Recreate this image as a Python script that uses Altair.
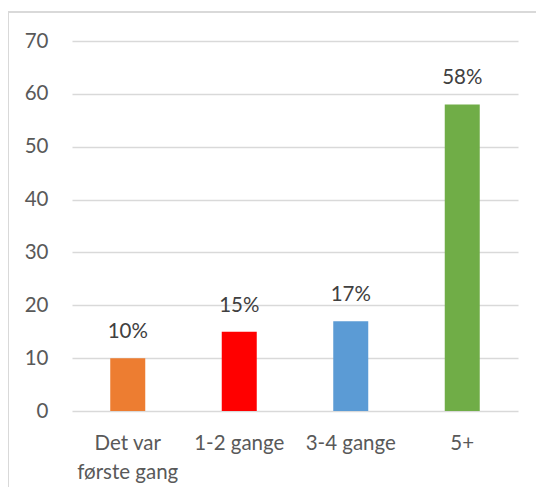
import altair as alt
import pandas as pd

categories = ["Det var første gang", "1-2 gange", "3-4 gange", "5+"]
values = [10, 15, 17, 58]
colors = ["#ED7D31", "#FF0000", "#5B9BD5", "#70AD47"]
y_ticks = [0, 10, 20, 30, 40, 50, 60, 70]

df = pd.DataFrame({"cat": categories, "val": values, "color": colors})

W, H = 446, 370
FONT = "Lato"
FS = 20.5

x_enc = alt.X(
    "cat:N",
    sort=categories,
    title=None,
    scale=alt.Scale(paddingInner=0.69, paddingOuter=0.345),
    axis=alt.Axis(
        labelAngle=0,
        labelFont=FONT,
        labelFontSize=FS,
        labelColor="#595959",
        labelPadding=22,
        labelLineHeight=29,
        labelBaseline="top",
        domain=False,
        ticks=False,
        labelExpr="datum.label == 'Det var første gang' ? ['Det var', 'første gang'] : datum.label",
    ),
)

y_enc = alt.Y(
    "val:Q",
    title=None,
    scale=alt.Scale(domain=[0, 70], nice=False),
    axis=alt.Axis(
        values=y_ticks,
        labelFont=FONT,
        labelFontSize=FS,
        labelColor="#595959",
        labelPadding=24,
        domain=False,
        ticks=False,
        gridColor="#d9d9d9",
        gridWidth=1.5,
    ),
)

border = alt.Chart(df).mark_rect(
    fill="transparent", stroke="#d9d9d9", strokeWidth=2, clip=False
).encode(
    x=alt.value(-64),
    x2=alt.value(W + 60),
    y=alt.value(-29),
    y2=alt.value(H + 200),
)

bars = alt.Chart(df).mark_bar(size=35).encode(
    x=x_enc,
    y=y_enc,
    color=alt.Color("color:N", scale=None, legend=None),
)

labels = alt.Chart(df).transform_calculate(
    lbl="datum.val + '%'"
).mark_text(
    font=FONT, fontSize=FS, color="#404040", baseline="middle", dy=-26
).encode(
    x=alt.X("cat:N", sort=categories),
    y=alt.Y("val:Q"),
    text="lbl:N",
)

chart = alt.layer(border, bars, labels).properties(
    width=W,
    height=H,
    padding={"left": 64, "top": 33, "right": 18, "bottom": 76},
    autosize=alt.AutoSizeParams(type="none"),
).configure_view(stroke=None)

chart.save("out.html", embed_options={"renderer": "svg", "actions": False})
